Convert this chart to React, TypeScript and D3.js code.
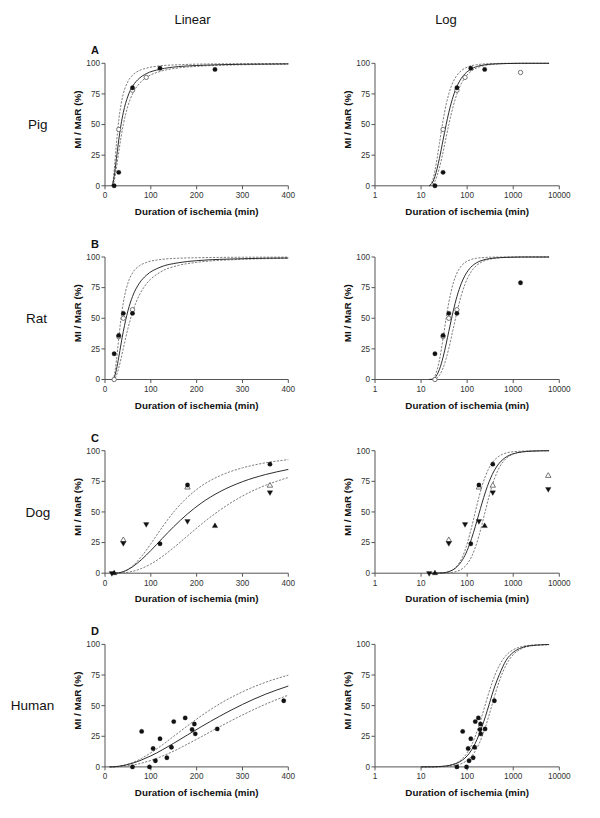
import React from "react";
import * as d3 from "d3";

// ---------- labels & ticks ----------
const rowLabels = ["Pig", "Rat", "Dog", "Human"];
const panelLetters = ["A", "B", "C", "D"];
const colHeaders = ["Linear", "Log"];
const yTicks = [0, 25, 50, 75, 100];
const linTicks = [0, 100, 200, 300, 400];
const logTicks = [1, 10, 100, 1000, 10000];
const xTitle = "Duration of ischemia (min)";
const yTitle = "MI / MaR (%)";

// ---------- fitted curves ----------
const pigTimes = [15, 18, 20, 25, 30, 35, 40, 50, 60, 75, 90, 120, 160, 200, 300, 400, 700, 1500, 6000];
const pigMid = [0, 3.2, 7.6, 22.3, 37.3, 50, 59.9, 73.2, 81.1, 87.8, 91.5, 95.1, 97.3, 98.2, 99.2, 99.5, 99.8, 100, 100];
const pigHi = [0, 5.1, 12.4, 34.5, 53.3, 66.3, 75.1, 85.1, 90.2, 94.1, 96.0, 97.9, 98.8, 99.3, 99.7, 99.8, 100, 100, 100];
const pigLo = [0, 1.1, 3.8, 14.6, 27.5, 39.6, 50, 65.2, 75, 83.5, 88.4, 93.3, 96.2, 97.5, 98.8, 99.3, 99.8, 100, 100];

const ratTimes = [15, 18, 20, 25, 30, 35, 40, 50, 60, 75, 90, 120, 160, 200, 300, 400, 700, 1500, 6000];
const ratMid = [0, 0.2, 1.4, 8.2, 18.1, 29.0, 39.3, 56.0, 67.7, 78.6, 85.0, 91.6, 95.3, 97.0, 98.6, 99.2, 99.7, 100, 100];
const ratHi = [0, 0.6, 2.9, 15.7, 33.5, 50, 62.8, 78.7, 86.9, 92.8, 95.5, 97.9, 99.0, 99.4, 99.8, 99.9, 100, 100, 100];
const ratLo = [0, 0, 0.3, 3.4, 9.4, 17.0, 25.4, 41.6, 54.9, 69.0, 77.9, 87.5, 93.1, 95.6, 98.1, 98.9, 99.7, 100, 100];

const dogTimes = [15, 20, 30, 40, 60, 80, 100, 125, 150, 180, 210, 250, 300, 350, 400, 500, 700, 1000, 1500, 2500, 6000];
const dogMid = [0, 0, 0.3, 1.3, 5.2, 11.2, 18.5, 28.4, 38.0, 48.4, 57.2, 66.4, 74.7, 80.5, 84.7, 89.9, 94.8, 97.5, 98.9, 99.6, 100];
const dogHi = [0, 0, 0.2, 1.2, 5.8, 13.8, 24.0, 37.6, 50, 62.0, 71.1, 79.4, 86.0, 90.1, 92.7, 95.7, 98.1, 99.2, 99.6, 99.9, 100];
const dogLo = [0, 0, 0.05, 0.3, 1.5, 3.9, 7.5, 13.6, 20.9, 30.4, 39.9, 51.3, 63.0, 71.7, 78.1, 86.3, 93.6, 97.3, 99.0, 99.7, 100];

const humanTimes = [10, 20, 30, 45, 60, 80, 100, 125, 150, 180, 210, 250, 300, 350, 400, 500, 700, 1000, 1500, 2500, 6000];
const humanMid = [0, 0.1, 0.5, 1.5, 3.0, 5.7, 9.0, 13.9, 19.3, 26.1, 32.8, 41.3, 51.0, 59.3, 66.0, 75.3, 87.0, 93.5, 97.2, 99.1, 99.9];
const humanHi = [0, 0.1, 0.5, 1.7, 3.5, 7.0, 11.5, 17.9, 25.0, 33.5, 41.7, 51.4, 61.3, 69.0, 74.9, 82.9, 91.0, 95.6, 98.1, 99.4, 99.9];
const humanLo = [0, 0, 0.2, 0.7, 1.5, 3.1, 5.3, 8.8, 12.9, 18.6, 24.6, 32.7, 42.4, 51.1, 58.6, 70.1, 83.2, 91.7, 96.4, 98.8, 99.8];

// ---------- observed data ----------
const pigFilledT = [20, 30, 60, 120, 240];
const pigFilledV = [0, 11, 80, 96, 95];
const pigOpenT = [30, 60, 90, 1440];
const pigOpenV = [46, 78, 88.5, 92.5];

const ratFilledT = [20, 30, 40, 60, 1440];
const ratFilledV = [21, 36, 54, 54, 79];
const ratOpenT = [20, 30, 40, 60];
const ratOpenV = [0, 35, 50, 57];

const dogCircleT = [120, 180, 360];
const dogCircleV = [24, 72, 89];
const dogOpenTriT = [40, 180, 360, 5760];
const dogOpenTriV = [27, 70, 71.5, 79.5];
const dogDownT = [15, 40, 90, 180, 360, 5760];
const dogDownV = [0, 24.5, 40, 42.5, 66, 68.7];
const dogUpT = [20, 240];
const dogUpV = [0, 38.5];

const humanT = [60, 97, 80, 105, 110, 120, 135, 145, 150, 175, 190, 195, 197, 245, 390];
const humanV = [0, 0, 29, 15, 5, 23, 7.5, 16, 37, 40, 30.5, 35, 27, 31, 54];

type Series = { t: number[]; v: number[]; shape: "circle" | "up" | "down"; open: boolean };
type Fit = { t: number[]; mid: number[]; hi: number[]; lo: number[] };

const fits: Fit[] = [
  { t: pigTimes, mid: pigMid, hi: pigHi, lo: pigLo },
  { t: ratTimes, mid: ratMid, hi: ratHi, lo: ratLo },
  { t: dogTimes, mid: dogMid, hi: dogHi, lo: dogLo },
  { t: humanTimes, mid: humanMid, hi: humanHi, lo: humanLo },
];

const seriesByRow: Series[][] = [
  [
    { t: pigOpenT, v: pigOpenV, shape: "circle", open: true },
    { t: pigFilledT, v: pigFilledV, shape: "circle", open: false },
  ],
  [
    { t: ratOpenT, v: ratOpenV, shape: "circle", open: true },
    { t: ratFilledT, v: ratFilledV, shape: "circle", open: false },
  ],
  [
    { t: dogOpenTriT, v: dogOpenTriV, shape: "up", open: true },
    { t: dogDownT, v: dogDownV, shape: "down", open: false },
    { t: dogUpT, v: dogUpV, shape: "up", open: false },
    { t: dogCircleT, v: dogCircleV, shape: "circle", open: false },
  ],
  [{ t: humanT, v: humanV, shape: "circle", open: false }],
];

// ---------- layout ----------
const FONT = "'Liberation Sans', Arial, Helvetica, sans-serif";
const PLOT_H = 122.5;
const rowTop = (i: number) => 63.3 + i * 193.7;
const LIN_X = [105, 288.3];
const LOG_X = [375, 559.3];
const rowLabelX = [37.8, 36.5, 38, 32.5];
const AXIS = "#555";
const TXT = "#333";

const circlePath = d3.symbol().type(d3.symbolCircle).size(15)()!;
const triPath = d3.symbol().type(d3.symbolTriangle).size(13)()!;

function Marker({ x, y, s }: { x: number; y: number; s: Series }) {
  const d = s.shape === "circle" ? circlePath : triPath;
  const rot = s.shape === "down" ? " rotate(180)" : "";
  return (
    <path
      d={d}
      transform={`translate(${x},${y})${rot}`}
      fill={s.open ? "#fff" : "#111"}
      stroke={s.open ? "#555" : "#111"}
      strokeWidth={s.open ? 0.8 : 0.3}
    />
  );
}

function Panel({ row, kind }: { row: number; kind: "lin" | "log" }) {
  const top = rowTop(row);
  const bottom = top + PLOT_H;
  const y = d3.scaleLinear().domain([0, 100]).range([bottom, top]);
  const isLog = kind === "log";
  const x: any = isLog
    ? d3.scaleLog().domain([1, 10000]).range(LOG_X)
    : d3.scaleLinear().domain([0, 400]).range(LIN_X);
  const xr = isLog ? LOG_X : LIN_X;
  const ticks = isLog ? logTicks : linTicks;
  const fit = fits[row];
  const keep = (t: number) => (isLog ? t >= 1 : t <= 400);

  const mk = (vals: number[]) => {
    const pts = fit.t.map((t, i) => [t, vals[i]] as [number, number]).filter((p) => keep(p[0]));
    return d3
      .line<[number, number]>()
      .x((p) => x(p[0]))
      .y((p) => y(p[1]))
      .curve(d3.curveMonotoneX)(pts)!;
  };

  const x0 = xr[0];
  const xc = (xr[0] + xr[1]) / 2;

  return (
    <g>
      <line x1={x0} x2={x0} y1={top} y2={bottom} stroke={AXIS} strokeWidth={1} />
      <line x1={x0} x2={xr[1]} y1={bottom} y2={bottom} stroke={AXIS} strokeWidth={1} />
      {yTicks.map((t) => (
        <g key={"y" + t}>
          <line x1={x0 - 3.5} x2={x0} y1={y(t)} y2={y(t)} stroke={AXIS} strokeWidth={1} />
          <text x={x0 - 5} y={y(t)} dy="0.35em" textAnchor="end" fontSize={8.2} fill={TXT}>
            {t}
          </text>
        </g>
      ))}
      {ticks.map((t) => (
        <g key={"x" + t}>
          <line x1={x(t)} x2={x(t)} y1={bottom} y2={bottom + 3.5} stroke={AXIS} strokeWidth={1} />
          <text x={x(t)} y={bottom + 12.5} textAnchor="middle" fontSize={8.2} fill={TXT}>
            {t}
          </text>
        </g>
      ))}
      <text x={xc} y={bottom + 29} textAnchor="middle" fontSize={9.8} fontWeight="bold" fill="#111">
        {xTitle}
      </text>
      <text
        transform={`translate(${x0 - 27.5},${(top + bottom) / 2 - 5}) rotate(-90)`}
        textAnchor="middle"
        dy="0.35em"
        fontSize={9.9}
        fontWeight="bold"
        fill="#111"
      >
        {yTitle}
      </text>
      {!isLog && (
        <text x={95} y={top - 9} textAnchor="middle" fontSize={11} fontWeight="bold" fill="#111">
          {panelLetters[row]}
        </text>
      )}
      <path d={mk(fit.hi)} fill="none" stroke="#666" strokeWidth={0.85} strokeDasharray="2.2,1.4" />
      <path d={mk(fit.lo)} fill="none" stroke="#666" strokeWidth={0.85} strokeDasharray="2.2,1.4" />
      <path d={mk(fit.mid)} fill="none" stroke="#222" strokeWidth={0.95} />
      {seriesByRow[row].map((s, si) =>
        s.t.map((t, i) =>
          keep(t) ? <Marker key={si + "-" + i} x={x(t)} y={y(s.v[i])} s={s} /> : null
        )
      )}
    </g>
  );
}

export default function App() {
  return (
    <svg
      width={600}
      height={818}
      style={{ position: "absolute", left: 0, top: 0, background: "#fff" }}
      fontFamily={FONT}
    >
      <rect x={0} y={0} width={600} height={818} fill="#fff" />
      <text x={192.5} y={24} textAnchor="middle" fontSize={13} fill="#111">
        {colHeaders[0]}
      </text>
      <text x={446} y={24} textAnchor="middle" fontSize={13} fill="#111">
        {colHeaders[1]}
      </text>
      {rowLabels.map((r, i) => (
        <text
          key={r}
          x={rowLabelX[i]}
          y={rowTop(i) + PLOT_H / 2 + 4.8}
          textAnchor="middle"
          fontSize={13.5}
          fill="#111"
        >
          {r}
        </text>
      ))}
      {rowLabels.map((r, i) => (
        <g key={"p" + r}>
          <Panel row={i} kind="lin" />
          <Panel row={i} kind="log" />
        </g>
      ))}
    </svg>
  );
}
